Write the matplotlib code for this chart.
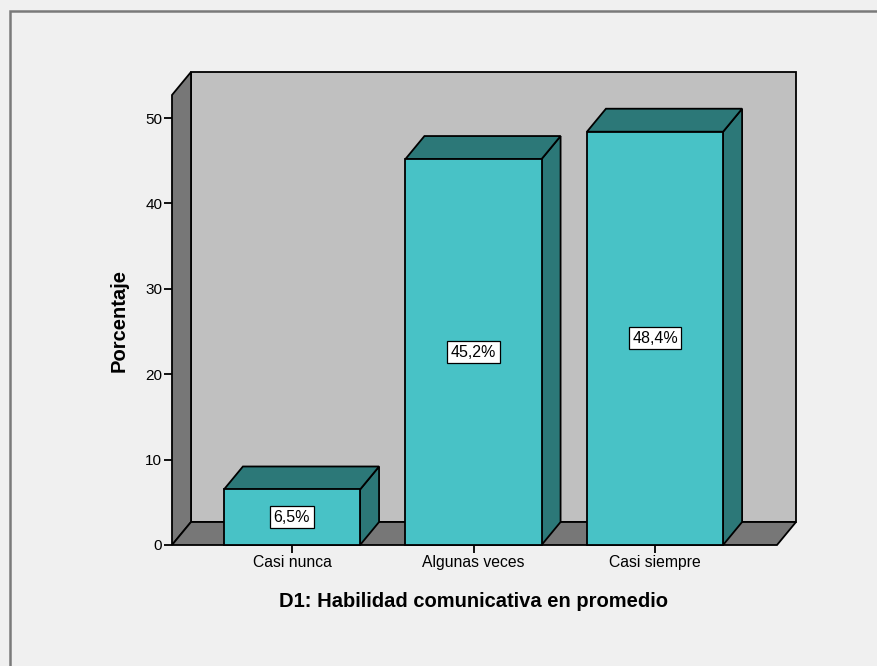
import numpy as np
import matplotlib.pyplot as plt
from matplotlib.patches import Polygon, Rectangle

# data
categories = ["Casi nunca", "Algunas veces", "Casi siempre"]
percentages = [6.5, 45.2, 48.4]
bar_labels = ["6,5%", "45,2%", "48,4%"]
y_ticks = [0, 10, 20, 30, 40, 50]

# colours
BG = "#f0f0f0"
WALL_BACK = "#c0c0c0"
WALL_SIDE = "#777777"
BAR_FRONT = "#48c2c6"
BAR_DARK = "#2c7878"
FONT = "Liberation Sans"

W, H = 877, 666
fig = plt.figure(figsize=(W / 100, H / 100), dpi=100)
fig.patch.set_facecolor(BG)

# front plane of the 3d box, in pixels
left_px, right_px, bottom_px, top_px = 172, 777, 545, 95
ax = fig.add_axes([left_px / W, (H - bottom_px) / H,
                   (right_px - left_px) / W, (bottom_px - top_px) / H])
ax.set_facecolor("none")
xmin, xmax = -0.661, 2.672
ymin, ymax = 0, 52.7
ax.set_xlim(xmin, xmax)
ax.set_ylim(ymin, ymax)

# depth offset (pixels -> data units)
depth_x_px, depth_y_px = 19, 23
dx = depth_x_px / (right_px - left_px) * (xmax - xmin)
dy = depth_y_px / (bottom_px - top_px) * (ymax - ymin)

def face(pts, color, z):
    ax.add_patch(Polygon(pts, closed=True, facecolor=color, edgecolor="black",
                         linewidth=1.3, clip_on=False, zorder=z, joinstyle="miter"))

# walls and floor
face([(xmin + dx, dy), (xmax + dx, dy), (xmax + dx, ymax + dy), (xmin + dx, ymax + dy)], WALL_BACK, 1)
face([(xmin, 0), (xmin, ymax), (xmin + dx, ymax + dy), (xmin + dx, dy)], WALL_SIDE, 2)
face([(xmin, 0), (xmax, 0), (xmax + dx, dy), (xmin + dx, dy)], WALL_SIDE, 2)

# bars
width = 0.75
x = np.arange(len(categories))
for i, (xc, v) in enumerate(zip(x, percentages)):
    x0, x1 = xc - width / 2, xc + width / 2
    face([(x1, 0), (x1 + dx, dy), (x1 + dx, v + dy), (x1, v)], BAR_DARK, 3)
    face([(x0, v), (x1, v), (x1 + dx, v + dy), (x0 + dx, v + dy)], BAR_DARK, 3)
    face([(x0, 0), (x1, 0), (x1, v), (x0, v)], BAR_FRONT, 4)
    ax.text(xc, v / 2, bar_labels[i], ha="center", va="center", fontsize=11.5,
            family=FONT, zorder=6,
            bbox=dict(boxstyle="square,pad=0.22", facecolor="white",
                      edgecolor="black", linewidth=0.9))

for s in ax.spines.values():
    s.set_visible(False)

ax.set_xticks(x)
ax.set_xticklabels(categories, family=FONT, fontsize=11.3)
ax.set_yticks(y_ticks)
ax.set_yticklabels([str(t) for t in y_ticks], family=FONT, fontsize=11)
ax.tick_params(axis="both", length=5.5, width=1.3, color="black", pad=1.5)

ax.set_ylabel("Porcentaje", family=FONT, fontsize=14.5, fontweight="bold")
ax.set_xlabel("D1: Habilidad comunicativa en promedio", family=FONT,
              fontsize=14.5, fontweight="bold")
ax.yaxis.set_label_coords((129 - left_px) / (right_px - left_px), 0.5)
ax.xaxis.set_label_coords((473 - left_px) / (right_px - left_px),
                          (bottom_px - 592) / (bottom_px - top_px))

# outer frame
fig.add_artist(Rectangle((10 / W, -0.05), 1.1, (H - 11) / H + 0.05,
                         transform=fig.transFigure, facecolor="none",
                         edgecolor="#7a7a7a", linewidth=1.8))

fig.savefig("out.png", dpi=100, facecolor=BG)
